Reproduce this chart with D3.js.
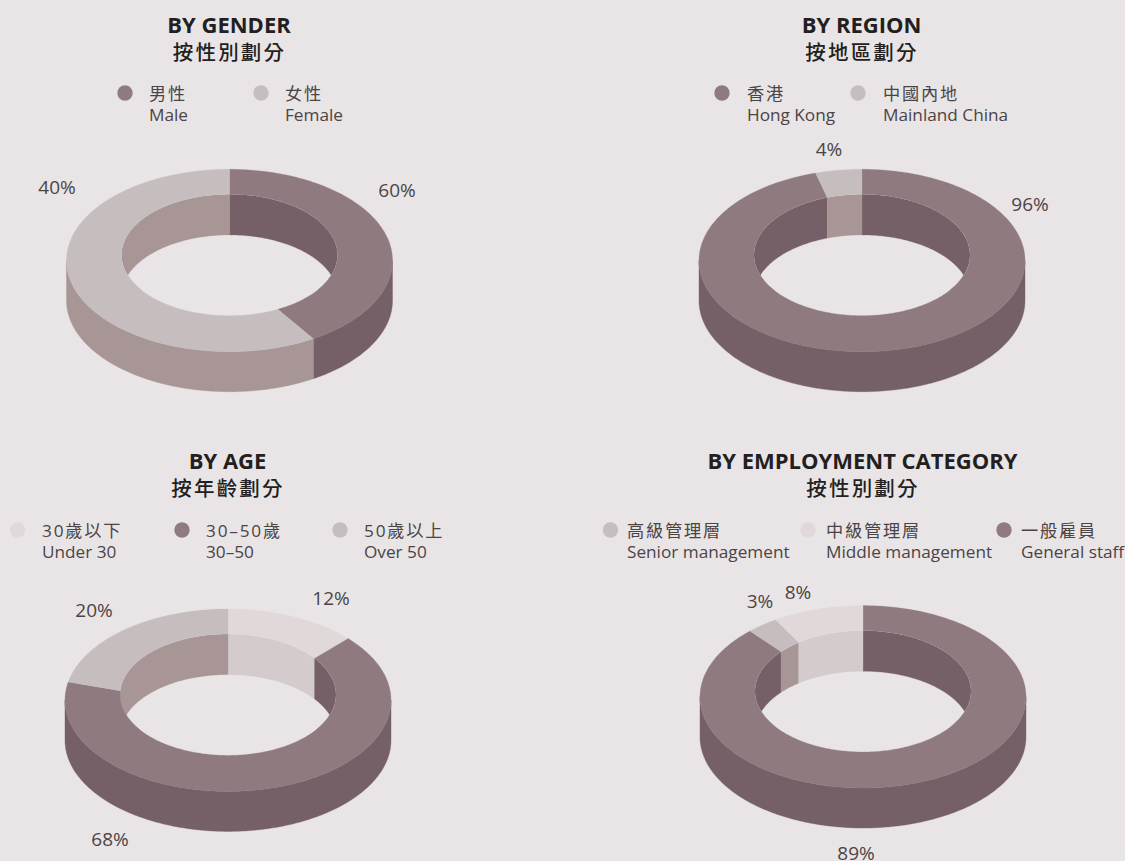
<!DOCTYPE html>
<html>
<head>
<meta charset="utf-8">
<script src="https://cdn.jsdelivr.net/npm/d3@7"></script>
<style>
  html, body { margin: 0; background: #e9e5e6; }
  svg { display: block; }
  text { font-family: "Open Sans", "Noto Sans CJK TC", sans-serif; }
</style>
</head>
<body>
<div id="chart-area"></div>
<script>
const WIDTH = 1125
const HEIGHT = 861

// Arc shares as drawn in the picture (they do not always agree with the printed labels)
const genderCats = ["男性", "女性"]
const genderEn = ["Male", "Female"]
const genderArcs = [41.4, 58.6]
const genderLabels = ["60%", "40%"]

const regionCats = ["香港", "中國內地"]
const regionEn = ["Hong Kong", "Mainland China"]
const regionArcs = [95.4, 4.6]
const regionLabels = ["96%", "4%"]

const ageCats = ["30歲以下", "30–50歲", "50歲以上"]
const ageEn = ["Under 30", "30–50", "Over 50"]
const ageArcs = [13.2, 65, 21.8]
const ageLabels = ["12%", "68%", "20%"]

const jobCats = ["一般雇員", "高級管理層", "中級管理層"]
const jobEn = ["General staff", "Senior management", "Middle management"]
const jobArcs = [87.8, 3.2, 9]
const jobLabels = ["89%", "3%", "8%"]

// Tones: top face and side/wall
const tones = ["dark", "mid", "pale"]
const topScale = d3.scaleOrdinal().domain(tones).range(["#8f7a7f", "#c6bdbe", "#e0d8d9"])
const sideScale = d3.scaleOrdinal().domain(tones).range(["#766067", "#a89596", "#d3cbcc"])

const panels = [
  { id: "gender", title: "BY GENDER", zh: "按性別劃分", cx: 229.5, cy: 260.5, titleY: 33,
    cats: genderCats, en: genderEn, arcs: genderArcs, labels: genderLabels, tones: ["dark", "mid"],
    labelPos: [[397, 197], [57, 194]],
    legendOrder: [0, 1], legendX: [125, 261], legendTextX: [149, 285], legendY: 93 },
  { id: "region", title: "BY REGION", zh: "按地區劃分", cx: 862, cy: 260.5, titleY: 33,
    cats: regionCats, en: regionEn, arcs: regionArcs, labels: regionLabels, tones: ["dark", "mid"],
    labelPos: [[1030, 210.5], [829, 155.5]],
    legendOrder: [0, 1], legendX: [722, 858], legendTextX: [747, 883], legendY: 93 },
  { id: "age", title: "BY AGE", zh: "按年齡劃分", cx: 228, cy: 700.2, titleY: 469,
    cats: ageCats, en: ageEn, arcs: ageArcs, labels: ageLabels, tones: ["pale", "dark", "mid"],
    labelPos: [[331, 605], [110, 846], [94, 617]],
    legendOrder: [0, 1, 2], legendX: [17.5, 182, 340], legendTextX: [42, 206, 364], legendY: 530 },
  { id: "job", title: "BY EMPLOYMENT CATEGORY", zh: "按性別劃分", cx: 863, cy: 696.8, titleY: 469,
    cats: jobCats, en: jobEn, arcs: jobArcs, labels: jobLabels, tones: ["dark", "mid", "pale"],
    labelPos: [[856, 860], [760, 608], [798, 598.5]],
    legendOrder: [1, 2, 0], legendX: [610.5, 808, 1004], legendTextX: [627, 826, 1021], legendY: 530 }
]

const TEXT_DARK = "#231f20"
const TEXT_SOFT = "#4b4445"
const OUTER = { rx: 163, ry: 91.2 }
const INNER = { rx: 108, ry: 60.7, dy: -5.5 }
const DEPTH = 40
const CONVERGE = 9   // radial edges meet a little below the face centre
const TAU = Math.PI * 2
const RAD = Math.PI / 180

const svg = d3.select("#chart-area").append("svg")
  .attr("width", WIDTH)
  .attr("height", HEIGHT)

svg.append("rect").attr("width", WIDTH).attr("height", HEIGHT).attr("fill", "#e9e5e6")

const pie = d3.pie().sort(null).startAngle(0).endAngle(TAU)
const poly = d3.line().curve(d3.curveLinearClosed)

const pt = (e, t, dy = 0) => [e.cx + e.rx * Math.sin(t), e.cy + dy - e.ry * Math.cos(t)]

// samples along an elliptical arc from angle a to angle b
const arcPts = (e, a, b, dy = 0) => {
  const n = Math.max(2, Math.ceil(Math.abs(b - a) / RAD))
  return d3.range(n + 1).map(i => pt(e, a + (b - a) * i / n, dy))
}

panels.forEach((p, pi) => {
  const g = svg.append("g").attr("class", p.id)
  const outer = { cx: p.cx, cy: p.cy, ...OUTER }
  const inner = { cx: p.cx, cy: p.cy + INNER.dy, rx: INNER.rx, ry: INNER.ry }

  // where the edge at outer angle t hits the inner ellipse
  const innerAngle = t => {
    if (t <= 0 || t >= TAU - 1e-6) return t
    const [x, y] = pt(outer, t)
    const oy = (p.cy + CONVERGE - inner.cy) / inner.ry
    const dx = (x - p.cx) / inner.rx
    const dy = (y - p.cy - CONVERGE) / inner.ry
    const A = dx * dx + dy * dy, B = 2 * oy * dy, C = oy * oy - 1
    const s = (-B + Math.sqrt(B * B - 4 * A * C)) / (2 * A)
    const u = Math.atan2(dx * s, -(oy + dy * s))
    return u < 0 ? u + TAU : u
  }

  const overlap = (a, b, lo, hi) => {
    const s = Math.max(a, lo), e = Math.min(b, hi)
    return s < e ? [s, e] : null
  }

  const slices = pie(p.arcs).map((d, i) => ({
    a: d.startAngle, b: d.endAngle, ua: innerAngle(d.startAngle), ub: innerAngle(d.endAngle), tone: p.tones[i]
  }))

  const clipId = "hole-" + pi
  g.append("clipPath").attr("id", clipId)
    .append("path").attr("d", poly(arcPts(inner, 0, TAU)))

  // outer side wall, front half only
  slices.forEach(s => {
    const o = overlap(s.a, s.b, 90 * RAD, 270 * RAD)
    if (!o) return
    g.append("path")
      .attr("d", poly(arcPts(outer, o[0], o[1]).concat(arcPts(outer, o[1], o[0], DEPTH))))
      .attr("fill", sideScale(s.tone))
      .attr("stroke", sideScale(s.tone)).attr("stroke-width", 0.4)
  })

  // wall of the hole, back part only
  const wall = g.append("g").attr("clip-path", `url(#${clipId})`)
  slices.forEach(s => {
    [[0, 125 * RAD], [235 * RAD, TAU]].forEach(([lo, hi]) => {
      const o = overlap(s.ua, s.ub, lo, hi)
      if (!o) return
      wall.append("path")
        .attr("d", poly(arcPts(inner, o[0], o[1]).concat(arcPts(inner, o[1], o[0], DEPTH + 0.6))))
        .attr("fill", sideScale(s.tone))
        .attr("stroke", sideScale(s.tone)).attr("stroke-width", 0.3)
    })
  })

  // top face
  slices.forEach(s => {
    g.append("path")
      .attr("d", poly(arcPts(outer, s.a, s.b).concat(arcPts(inner, s.ub, s.ua))))
      .attr("fill", topScale(s.tone))
      .attr("stroke", topScale(s.tone)).attr("stroke-width", 0.3)
  })

  // percentage labels
  g.selectAll("text.pct")
    .data(p.labels)
    .join("text")
    .attr("class", "pct")
    .attr("x", (d, i) => p.labelPos[i][0])
    .attr("y", (d, i) => p.labelPos[i][1])
    .attr("text-anchor", "middle")
    .attr("font-size", 19)
    .attr("fill", TEXT_SOFT)
    .text(d => d)

  // titles
  g.append("text")
    .attr("x", p.cx - 0.5).attr("y", p.titleY)
    .attr("text-anchor", "middle")
    .attr("font-size", 22).attr("font-weight", 700)
    .attr("fill", TEXT_DARK)
    .text(p.title)
  g.append("text")
    .attr("x", p.cx).attr("y", p.titleY + 27)
    .attr("text-anchor", "middle")
    .attr("font-size", 20.5).attr("font-weight", 500)
    .attr("letter-spacing", 2.2)
    .attr("fill", TEXT_DARK)
    .text(p.zh)

  // legend
  p.legendOrder.forEach((k, i) => {
    g.append("circle")
      .attr("cx", p.legendX[i]).attr("cy", p.legendY).attr("r", 7.7)
      .attr("fill", topScale(p.tones[k]))
    g.append("text")
      .attr("x", p.legendTextX[i]).attr("y", p.legendY + 6.5)
      .attr("font-size", 17.2).attr("letter-spacing", 1.8)
      .attr("fill", TEXT_SOFT)
      .text(p.cats[k])
    g.append("text")
      .attr("x", p.legendTextX[i]).attr("y", p.legendY + 28)
      .attr("font-size", 17.2)
      .attr("fill", TEXT_SOFT)
      .text(p.en[k])
  })
})
</script>
</body>
</html>
